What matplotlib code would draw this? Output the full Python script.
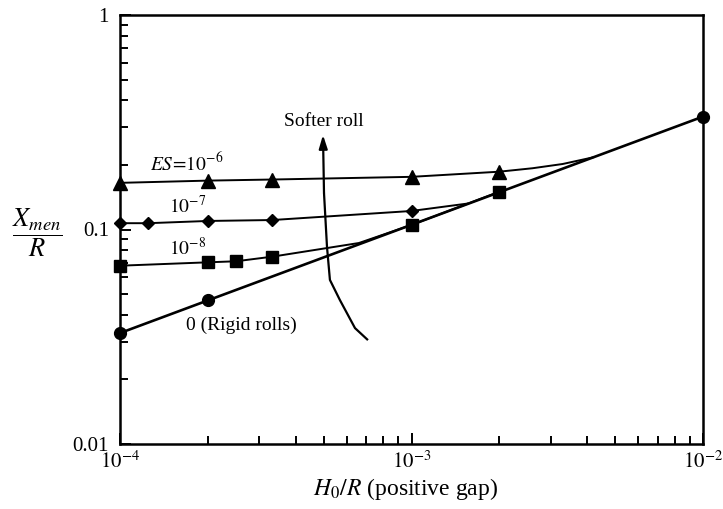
import matplotlib
matplotlib.use("Agg")
import matplotlib.pyplot as plt
from matplotlib.ticker import FixedLocator, FixedFormatter, LogLocator, NullFormatter

plt.rcParams["font.family"] = ["Liberation Serif", "DejaVu Serif"]
plt.rcParams["mathtext.fontset"] = "stix"

# Meniscus position X_men/R versus gap H0/R for several roll softness values ES
x_es6 = [1e-4, 2e-4, 3.33e-4, 1e-3, 2e-3]
y_es6 = [0.165, 0.169, 0.171, 0.176, 0.186]
x_es6_tail = [2.6e-3, 3.3e-3, 4.2e-3]
y_es6_tail = [0.193, 0.202, 0.217]

x_es7 = [1e-4, 1.25e-4, 2e-4, 3.33e-4, 1e-3]
y_es7 = [0.107, 0.107, 0.1096, 0.1107, 0.122]
x_es7_tail = [1.55e-3]
y_es7_tail = [0.132]

x_es8 = [1e-4, 2e-4, 2.5e-4, 3.33e-4, 1e-3, 2e-3]
y_es8 = [0.0678, 0.0703, 0.0711, 0.0747, 0.105, 0.150]
x_es8_mid = [6.6e-4]
y_es8_mid = [0.0865]

x_rigid = [1e-4, 2e-4, 1e-2]
y_rigid = [0.0329, 0.0467, 0.336]

# "Softer roll" trend arrow path
x_arrow = [7.09e-4, 6.4e-4, 5.68e-4, 5.25e-4, 5.13e-4, 5.01e-4]
y_arrow = [0.0305, 0.0347, 0.0469, 0.0582, 0.0829, 0.148]
arrow_tip = (4.97e-4, 0.276)

x_ticks = [1e-4, 1e-3, 1e-2]
x_ticklabels = [r"$10^{-4}$", r"$10^{-3}$", r"$10^{-2}$"]
y_ticks = [0.01, 0.1, 1]
y_ticklabels = ["0.01", "0.1", "1"]

fig = plt.figure(figsize=(7.23, 5.09), dpi=100)
ax = fig.add_axes([120 / 723, 1 - 444 / 509, 583 / 723, 429 / 509])
ax.set_xscale("log")
ax.set_yscale("log")
ax.set_xlim(1e-4, 1e-2)
ax.set_ylim(0.01, 1)

k = "black"
thin = 1.4
# ES = 1e-6
ax.plot(x_es6 + x_es6_tail, y_es6 + y_es6_tail, color=k, lw=thin)
ax.plot(x_es6, y_es6, ls="none", marker="^", ms=9.5, color=k, clip_on=False)
# ES = 1e-7
ax.plot(x_es7 + x_es7_tail, y_es7 + y_es7_tail, color=k, lw=thin)
ax.plot(x_es7, y_es7, ls="none", marker="D", ms=6.5, color=k, clip_on=False)
# ES = 1e-8
x8 = x_es8[:4] + x_es8_mid + x_es8[4:]
y8 = y_es8[:4] + y_es8_mid + y_es8[4:]
ax.plot(x8, y8, color=k, lw=thin)
ax.plot(x_es8, y_es8, ls="none", marker="s", ms=8.5, color=k, clip_on=False)
# Rigid rolls
ax.plot(x_rigid, y_rigid, color=k, lw=1.9)
ax.plot(x_rigid, y_rigid, ls="none", marker="o", ms=8.5, color=k, clip_on=False)

# Trend arrow
ax.plot(x_arrow, y_arrow, color=k, lw=1.6, solid_capstyle="butt")
ax.annotate("", xy=arrow_tip, xytext=(x_arrow[-1], y_arrow[-1]),
            arrowprops=dict(arrowstyle="-|>,head_length=0.8,head_width=0.25",
                            color=k, lw=1.6, shrinkA=0, shrinkB=0))

fs_ann = 14
ax.text(1.70e-4, 0.204, r"$ES\!=\!10^{-6}$", fontsize=fs_ann, ha="center", va="center")
ax.text(1.71e-4, 0.128, r"$10^{-7}$", fontsize=fs_ann, ha="center", va="center")
ax.text(1.71e-4, 0.082, r"$10^{-8}$", fontsize=fs_ann, ha="center", va="center")
ax.text(2.6e-4, 0.0359, "0 (Rigid rolls)", fontsize=fs_ann, ha="center", va="center")
ax.text(5.0e-4, 0.32, "Softer roll", fontsize=fs_ann, ha="center", va="center")

ax.xaxis.set_major_locator(FixedLocator(x_ticks))
ax.xaxis.set_major_formatter(FixedFormatter(x_ticklabels))
ax.xaxis.set_minor_locator(LogLocator(base=10, subs=range(2, 10)))
ax.xaxis.set_minor_formatter(NullFormatter())
ax.yaxis.set_major_locator(FixedLocator(y_ticks))
ax.yaxis.set_major_formatter(FixedFormatter(y_ticklabels))
ax.yaxis.set_minor_locator(LogLocator(base=10, subs=range(2, 10)))
ax.yaxis.set_minor_formatter(NullFormatter())

ax.tick_params(which="both", direction="in", top=False, right=False,
               width=1.4, labelsize=15, color=k)
ax.tick_params(which="major", length=8)
ax.tick_params(which="minor", length=6)
ax.tick_params(axis="x", pad=5)
ax.tick_params(axis="y", pad=8)
for s in ax.spines.values():
    s.set_linewidth(1.8)

ax.set_xlabel(r"$H_0/R$ (positive gap)", fontsize=17, va="center")
ax.xaxis.set_label_coords(0.489, (444 - 489) / 429)
ax.set_ylabel(r"$\dfrac{X_{men}}{R}$", fontsize=19, rotation=0, va="center", ha="center")
ax.yaxis.set_label_coords((37 - 120) / 583, (444 - 233) / 429)

fig.savefig("out.png", dpi=100)
